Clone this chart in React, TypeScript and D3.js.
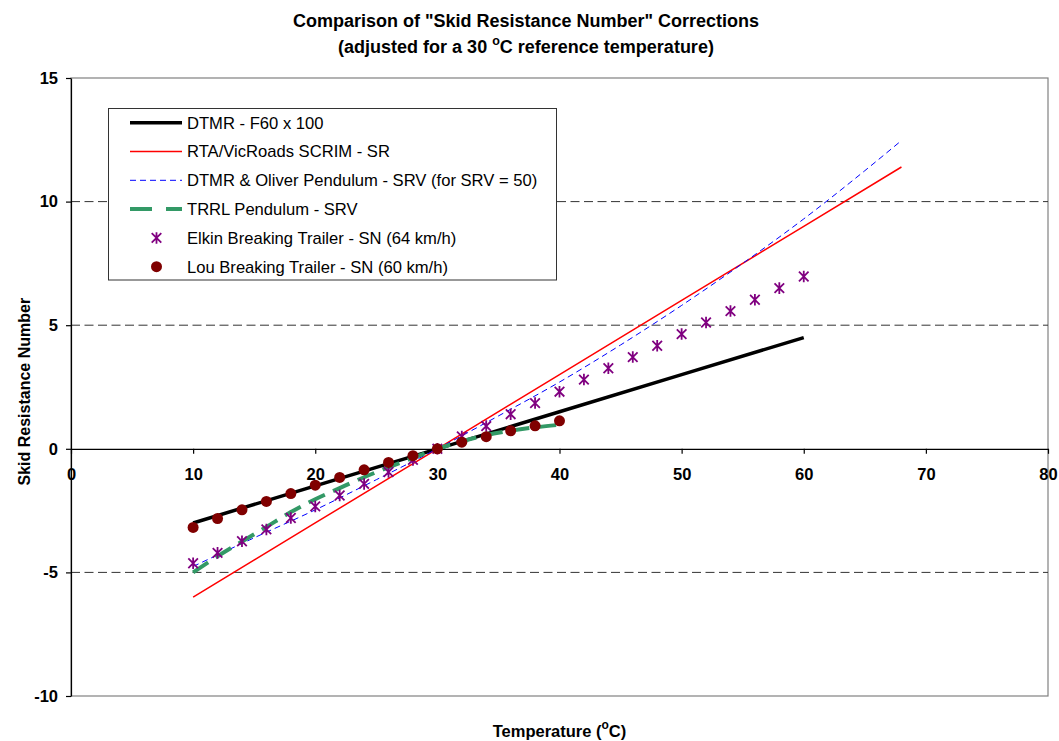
import React, { useEffect, useRef } from 'react'
import * as d3 from 'd3'

// axis ticks
const xTicks = [0, 10, 20, 30, 40, 50, 60, 70, 80]
const yTicks = [-10, -5, 0, 5, 10, 15]
const gridValues = [-5, 5, 10]

// DTMR - F60 x 100
const dtmrTemps = [10, 20, 30, 40, 50, 60]
const dtmrValues = [-3.0, -1.5, 0, 1.5, 3.0, 4.5]

// RTA/VicRoads SCRIM - SR
const scrimTemps = [10, 20, 30, 40, 50, 60, 68]
const scrimValues = [-6.0, -3.0, 0, 3.0, 6.0, 9.0, 11.4]

// DTMR & Oliver Pendulum - SRV (for SRV = 50)
const oliverTemps = [10, 15, 20, 25, 30, 35, 40, 45, 50, 55, 60, 65, 68]
const oliverValues = [-4.76, -3.6, -2.47, -1.25, 0, 1.33, 2.7, 4.2, 5.8, 7.5, 9.3, 11.25, 12.47]

// TRRL Pendulum - SRV
const trrlTemps = [10, 12, 14, 16, 18, 20, 22, 24, 26, 28, 30, 32, 34, 36, 38, 40]
const trrlValues = [-5.0, -4.35, -3.75, -3.16, -2.56, -2.04, -1.59, -1.15, -0.75, -0.37, 0, 0.3, 0.55, 0.73, 0.87, 0.97]

// Elkin Breaking Trailer - SN (64 km/h)
const elkinTemps = [10, 12, 14, 16, 18, 20, 22, 24, 26, 28, 30, 32, 34, 36, 38, 40, 42, 44, 46, 48, 50, 52, 54, 56, 58, 60]
const elkinValues = [-4.63, -4.21, -3.74, -3.26, -2.8, -2.33, -1.89, -1.42, -0.94, -0.45, 0, 0.5, 0.92, 1.4, 1.85, 2.31, 2.8, 3.26, 3.71, 4.17, 4.64, 5.11, 5.57, 6.03, 6.5, 6.97]

// Lou Breaking Trailer - SN (60 km/h)
const louTemps = [10, 12, 14, 16, 18, 20, 22, 24, 26, 28, 30, 32, 34, 36, 38, 40]
const louValues = [-3.18, -2.82, -2.47, -2.13, -1.81, -1.47, -1.16, -0.85, -0.55, -0.28, 0, 0.27, 0.49, 0.73, 0.93, 1.13]

const font = '"Liberation Sans", Arial, Helvetica, sans-serif'

const zip = (xs: number[], ys: number[]): [number, number][] => xs.map((t, i) => [t, ys[i]])

const starPath = (r: number) =>
  `M${-r},${-r}L${r},${r}M${-r},${r}L${r},${-r}M0,${-r * 1.2}L0,${r * 1.2}`

function SkidChart() {
  const svgRef = useRef<SVGSVGElement>(null)

  useEffect(() => {
    const width = 1059, height = 741
    const margin = { left: 71, right: 11, top: 78, bottom: 45 }

    const svg = d3.select(svgRef.current)
    svg.selectAll('*').remove()

    const x = d3.scaleLinear().domain([0, 80]).range([margin.left, width - margin.right])
    const y = d3.scaleLinear().domain([-10, 15]).range([height - margin.bottom, margin.top])

    // plot border (grey)
    svg.append('rect')
      .attr('x', x(0)).attr('y', y(15))
      .attr('width', x(80) - x(0)).attr('height', y(-10) - y(15))
      .attr('fill', 'none').attr('stroke', '#808080').attr('stroke-width', 1.2)

    // dashed gridlines
    svg.append('g').selectAll('line')
      .data(gridValues)
      .join('line')
      .attr('x1', x(0)).attr('x2', x(80))
      .attr('y1', d => y(d)).attr('y2', d => y(d))
      .attr('stroke', '#333').attr('stroke-width', 1)
      .attr('stroke-dasharray', '9,4.5')

    // legend box sits over gridlines
    const legend = svg.append('g')
    legend.append('rect')
      .attr('x', 108.5).attr('y', 108.5).attr('width', 448).attr('height', 171.5)
      .attr('fill', 'white').attr('stroke', '#333').attr('stroke-width', 1)

    // axes
    const yAxis = d3.axisLeft(y).tickValues(yTicks).tickSize(5).tickPadding(8).tickSizeOuter(0)
      .tickFormat(d => String(d))
    const yg = svg.append('g')
      .attr('transform', `translate(${x(0)},0)`)
      .call(yAxis)
      .attr('font-family', font).attr('font-size', 16.5).attr('font-weight', 'bold')
    yg.selectAll('path, line').attr('stroke', '#000').attr('stroke-width', 1.2)
    yg.selectAll('text').attr('fill', '#000')

    const xAxis = d3.axisBottom(x).tickValues(xTicks).tickSize(5).tickPadding(14).tickSizeOuter(0)
      .tickFormat(d => String(d))
    const xg = svg.append('g')
      .attr('transform', `translate(0,${y(0)})`)
      .call(xAxis)
      .attr('font-family', font).attr('font-size', 16.5).attr('font-weight', 'bold')
    xg.selectAll('path, line').attr('stroke', '#000').attr('stroke-width', 1.2)
    xg.selectAll('text').attr('fill', '#000')

    // series lines
    const line = d3.line<[number, number]>().x(d => x(d[0])).y(d => y(d[1]))
    const smooth = d3.line<[number, number]>().x(d => x(d[0])).y(d => y(d[1])).curve(d3.curveMonotoneX)

    const lines = [
      { data: zip(dtmrTemps, dtmrValues), gen: line, color: '#000000', width: 3.5, dash: null },
      { data: zip(scrimTemps, scrimValues), gen: line, color: '#ff0000', width: 1.5, dash: null },
      { data: zip(oliverTemps, oliverValues), gen: smooth, color: '#0000ff', width: 1, dash: '6,4' },
      { data: zip(trrlTemps, trrlValues), gen: smooth, color: '#339966', width: 4, dash: '18,9' },
    ]
    lines.forEach(s => {
      svg.append('path')
        .datum(s.data)
        .attr('fill', 'none')
        .attr('stroke', s.color)
        .attr('stroke-width', s.width)
        .attr('stroke-dasharray', s.dash)
        .attr('d', s.gen)
    })

    // Elkin stars
    svg.append('g').selectAll('path')
      .data(zip(elkinTemps, elkinValues))
      .join('path')
      .attr('transform', d => `translate(${x(d[0])},${y(d[1])})`)
      .attr('d', starPath(4.8))
      .attr('fill', 'none').attr('stroke', '#800080').attr('stroke-width', 1.8)

    // Lou circles
    svg.append('g').selectAll('circle')
      .data(zip(louTemps, louValues))
      .join('circle')
      .attr('cx', d => x(d[0])).attr('cy', d => y(d[1]))
      .attr('r', 5.5)
      .attr('fill', '#800000')

    // legend entries
    const items = [
      { label: 'DTMR - F60 x 100', kind: 'line', color: '#000000', width: 3.5, dash: null },
      { label: 'RTA/VicRoads SCRIM - SR', kind: 'line', color: '#ff0000', width: 1.5, dash: null },
      { label: 'DTMR & Oliver Pendulum - SRV (for SRV = 50)', kind: 'line', color: '#0000ff', width: 1, dash: '6,4' },
      { label: 'TRRL Pendulum - SRV', kind: 'line', color: '#339966', width: 4, dash: '22,14' },
      { label: 'Elkin Breaking Trailer - SN (64 km/h)', kind: 'star', color: '#800080', width: 1.8, dash: null },
      { label: 'Lou Breaking Trailer - SN (60 km/h)', kind: 'circle', color: '#800000', width: 0, dash: null },
    ]
    items.forEach((it, i) => {
      const cy = 122.7 + i * 28.8
      if (it.kind === 'line') {
        legend.append('line')
          .attr('x1', 130).attr('x2', 182).attr('y1', cy).attr('y2', cy)
          .attr('stroke', it.color).attr('stroke-width', it.width)
          .attr('stroke-dasharray', it.dash)
      } else if (it.kind === 'star') {
        legend.append('path')
          .attr('transform', `translate(156.5,${cy})`)
          .attr('d', starPath(4.8))
          .attr('fill', 'none').attr('stroke', it.color).attr('stroke-width', it.width)
      } else {
        legend.append('circle').attr('cx', 156.5).attr('cy', cy).attr('r', 5.5).attr('fill', it.color)
      }
      legend.append('text')
        .attr('x', 187).attr('y', cy + 5.8)
        .attr('font-family', font).attr('font-size', 16.6)
        .text(it.label)
    })

    // titles
    const title = svg.append('text')
      .attr('x', 526).attr('text-anchor', 'middle')
      .attr('font-family', font).attr('font-size', 18).attr('font-weight', 'bold')
    title.append('tspan').attr('x', 526).attr('y', 26.7)
      .text('Comparison of "Skid Resistance Number" Corrections')
    const t2 = title.append('tspan').attr('x', 526).attr('y', 53.3)
    t2.append('tspan').text('(adjusted for a 30 ')
    t2.append('tspan').attr('font-size', 12.5).attr('dy', -8).text('o')
    t2.append('tspan').attr('dy', 8).text('C reference temperature)')

    const xt = svg.append('text')
      .attr('x', (x(0) + x(80)) / 2).attr('y', 736.5).attr('text-anchor', 'middle')
      .attr('font-family', font).attr('font-size', 16.5).attr('font-weight', 'bold')
    xt.append('tspan').text('Temperature (')
    xt.append('tspan').attr('font-size', 12).attr('dy', -7.5).text('o')
    xt.append('tspan').attr('dy', 7.5).text('C)')

    svg.append('text')
      .attr('transform', 'translate(29.5,391.7) rotate(-90)')
      .attr('text-anchor', 'middle')
      .attr('font-family', font).attr('font-size', 16).attr('font-weight', 'bold')
      .text('Skid Resistance Number')
  }, [])

  return (
    <svg ref={svgRef} width={1059} height={741}
      style={{ position: 'absolute', left: 0, top: 0, background: '#fff' }} />
  )
}

export default function App() {
  return <SkidChart />
}
